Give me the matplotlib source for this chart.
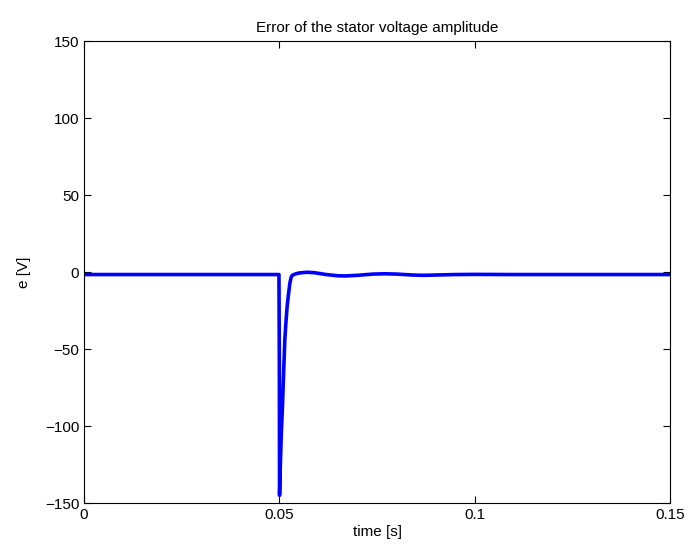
import numpy as np
import matplotlib
matplotlib.use("Agg")
import matplotlib.pyplot as plt

plt.rcParams['font.family'] = ['Liberation Sans', 'DejaVu Sans']

# error of the stator voltage amplitude
t = [0.0, 0.0499, 0.0500, 0.05005, 0.0502, 0.0505, 0.0508, 0.0511, 0.0514,
     0.0517, 0.0520, 0.0524, 0.0527, 0.0530, 0.0533, 0.0540, 0.0550,
     0.0570, 0.0590, 0.0620, 0.0650, 0.0670, 0.0700, 0.0740, 0.0770,
     0.0800, 0.0840, 0.0870, 0.0900, 0.0950, 0.1000, 0.1100, 0.1200,
     0.1300, 0.1400, 0.1500]
e = [-1.5, -1.5, -60.0, -145.0, -130.0, -105.0, -87.0, -65.0, -44.0,
     -32.0, -22.0, -13.0, -7.0, -3.5, -2.0, -1.2, -0.5,
     0.0, -0.3, -1.5, -2.3, -2.4, -2.0, -1.2, -1.0,
     -1.2, -1.8, -2.0, -1.8, -1.5, -1.4, -1.5, -1.5,
     -1.5, -1.5, -1.5]

xticks = [0, 0.05, 0.1, 0.15]
xticklabels = ['0', '0.05', '0.1', '0.15']
yticks = [-150, -100, -50, 0, 50, 100, 150]
yticklabels = ['\u2212150', '\u2212100', '\u221250', '0', '50', '100', '150']

fig = plt.figure(figsize=(6.91, 5.53), dpi=100)
ax = fig.add_axes([0.1216, 0.0904, 0.848, 0.8346])
ax.plot(t, e, color='#0000ff', linewidth=2.6)

ax.set_xlim(0, 0.15)
ax.set_ylim(-150, 150)
ax.set_xticks(xticks)
ax.set_xticklabels(xticklabels)
ax.set_yticks(yticks)
ax.set_yticklabels(yticklabels)
ax.tick_params(direction='in', top=True, right=True, labelsize=11, length=5, width=0.8)
for s in ax.spines.values():
    s.set_linewidth(0.8)

ax.set_xlabel('time [s]', fontsize=11, labelpad=2)
ax.set_ylabel('e [V]', fontsize=11, labelpad=10)
ax.set_title('Error of the stator voltage amplitude', fontsize=11, pad=7)

fig.savefig('out.png', dpi=100)
